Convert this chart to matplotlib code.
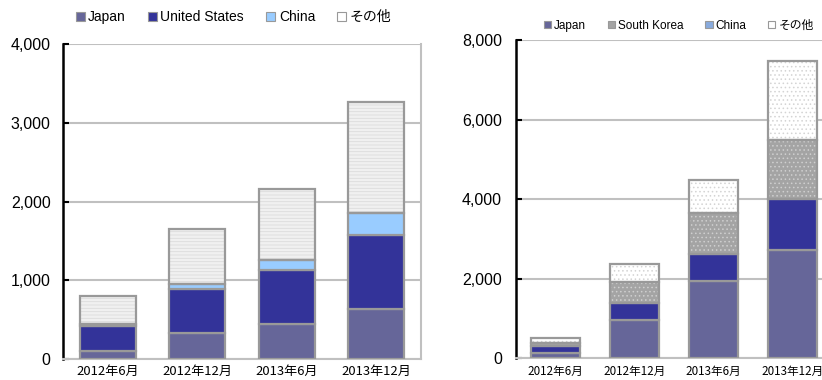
import numpy as np
import matplotlib.pyplot as plt
from matplotlib.patches import Patch
from matplotlib.ticker import FuncFormatter

plt.rcParams['font.family'] = ['Liberation Sans', 'Noto Sans CJK JP', 'DejaVu Sans']
plt.rcParams['hatch.linewidth'] = 0.6

periods = ["2012年6月", "2012年12月", "2013年6月", "2013年12月"]

# left panel
left_names = ["Japan", "United States", "China", "その他"]
left_japan = [100, 335, 440, 630]
left_us = [320, 550, 690, 945]
left_china = [20, 65, 125, 275]
left_other = [365, 700, 905, 1415]

# right panel
right_names = ["Japan", "South Korea", "China", "その他"]
right_japan = [140, 960, 1950, 2720]
right_second = [170, 420, 670, 1275]
right_third = [65, 545, 1020, 1490]
right_other = [130, 440, 840, 1985]

EDGE = "#999999"
GRID = "#c0c0c0"
JP_FONT = ['Noto Sans CJK JP', 'DejaVu Sans']
LEG_FONT = ['Liberation Sans', 'Noto Sans CJK JP']


def stacked(ax, series, styles, width):
    x = np.arange(len(periods))
    bottom = np.zeros(len(periods))
    for vals, (fc, hatch, hc) in zip(series, styles):
        vals = np.array(vals, dtype=float)
        if hatch:
            ax.bar(x, vals, width, bottom=bottom, color=fc, hatch=hatch,
                   edgecolor=hc, linewidth=0, zorder=2)
            ax.bar(x, vals, width, bottom=bottom, fill=False,
                   edgecolor=EDGE, linewidth=1.6, zorder=3)
        else:
            ax.bar(x, vals, width, bottom=bottom, color=fc,
                   edgecolor=EDGE, linewidth=1.6, zorder=3)
        bottom += vals


def style_axes(ax, ymax, step, ypad, xpad, xsize):
    ax.set_xlim(-0.5, 3.5)
    ax.set_ylim(0, ymax)
    ax.set_yticks(np.arange(0, ymax + 1, step))
    ax.yaxis.set_major_formatter(FuncFormatter(lambda v, p: f"{int(v):,}"))
    ax.set_xticks(range(len(periods)))
    ax.set_xticklabels(periods, family=JP_FONT, fontsize=xsize)
    ax.tick_params(axis='x', length=0, pad=xpad)
    ax.tick_params(axis='y', direction='in', length=4, width=1.5,
                   color='black', pad=ypad, labelsize=11.5)
    ax.grid(axis='y', color=GRID, linewidth=1.5, zorder=0)
    ax.set_axisbelow(True)
    ax.spines['left'].set_color('black')
    ax.spines['left'].set_linewidth(1.8)
    for s in ['right', 'bottom', 'top']:
        ax.spines[s].set_color(GRID)
        ax.spines[s].set_linewidth(1.5)
    ax.spines['top'].set_visible(False)


fig = plt.figure(figsize=(8.22, 3.80), dpi=100)

ax1 = fig.add_axes([63 / 822, 1 - 359 / 380, 358 / 822, 315 / 380])
left_styles = [("#666699", None, None), ("#333399", None, None),
               ("#99ccff", None, None), ("#f0f0f0", "-----", "#dcdcdc")]
stacked(ax1, [left_japan, left_us, left_china, left_other], left_styles, 0.625)
style_axes(ax1, 4000, 1000, 9, 4, 9.4)

ax2 = fig.add_axes([515.7 / 822, 1 - 358.3 / 380, 316 / 822, 318.3 / 380])
right_styles = [("#666699", None, None), ("#333399", None, None),
                ("#a4a4a4", "....", "#cfcfcf"), ("#ffffff", "....", "#d4d4d4")]
stacked(ax2, [right_japan, right_second, right_third, right_other], right_styles, 0.62)
style_axes(ax2, 8000, 2000, 10, 4.5, 8.4)
ax2.spines['right'].set_visible(False)

# legends
h1 = [Patch(facecolor=c, edgecolor=EDGE, linewidth=0.8)
      for c in ["#666699", "#333399", "#99ccff", "#ffffff"]]
ax1.legend(h1, left_names, ncol=4, loc='center left', bbox_to_anchor=(0.0, 1.085),
           frameon=False, handlelength=0.65, handleheight=0.65,
           handletextpad=0.25, columnspacing=1.6,
           prop={'family': LEG_FONT, 'size': 10})

h2 = [Patch(facecolor=c, edgecolor=EDGE, linewidth=0.8)
      for c in ["#666699", "#a4a4a4", "#88aadd", "#ffffff"]]
ax2.legend(h2, right_names, ncol=4, loc='center left', bbox_to_anchor=(0.055, 1.045),
           frameon=False, handlelength=0.65, handleheight=0.65,
           handletextpad=0.25, columnspacing=1.8,
           prop={'family': LEG_FONT, 'size': 8.5})

fig.savefig("out.png", dpi=100)
